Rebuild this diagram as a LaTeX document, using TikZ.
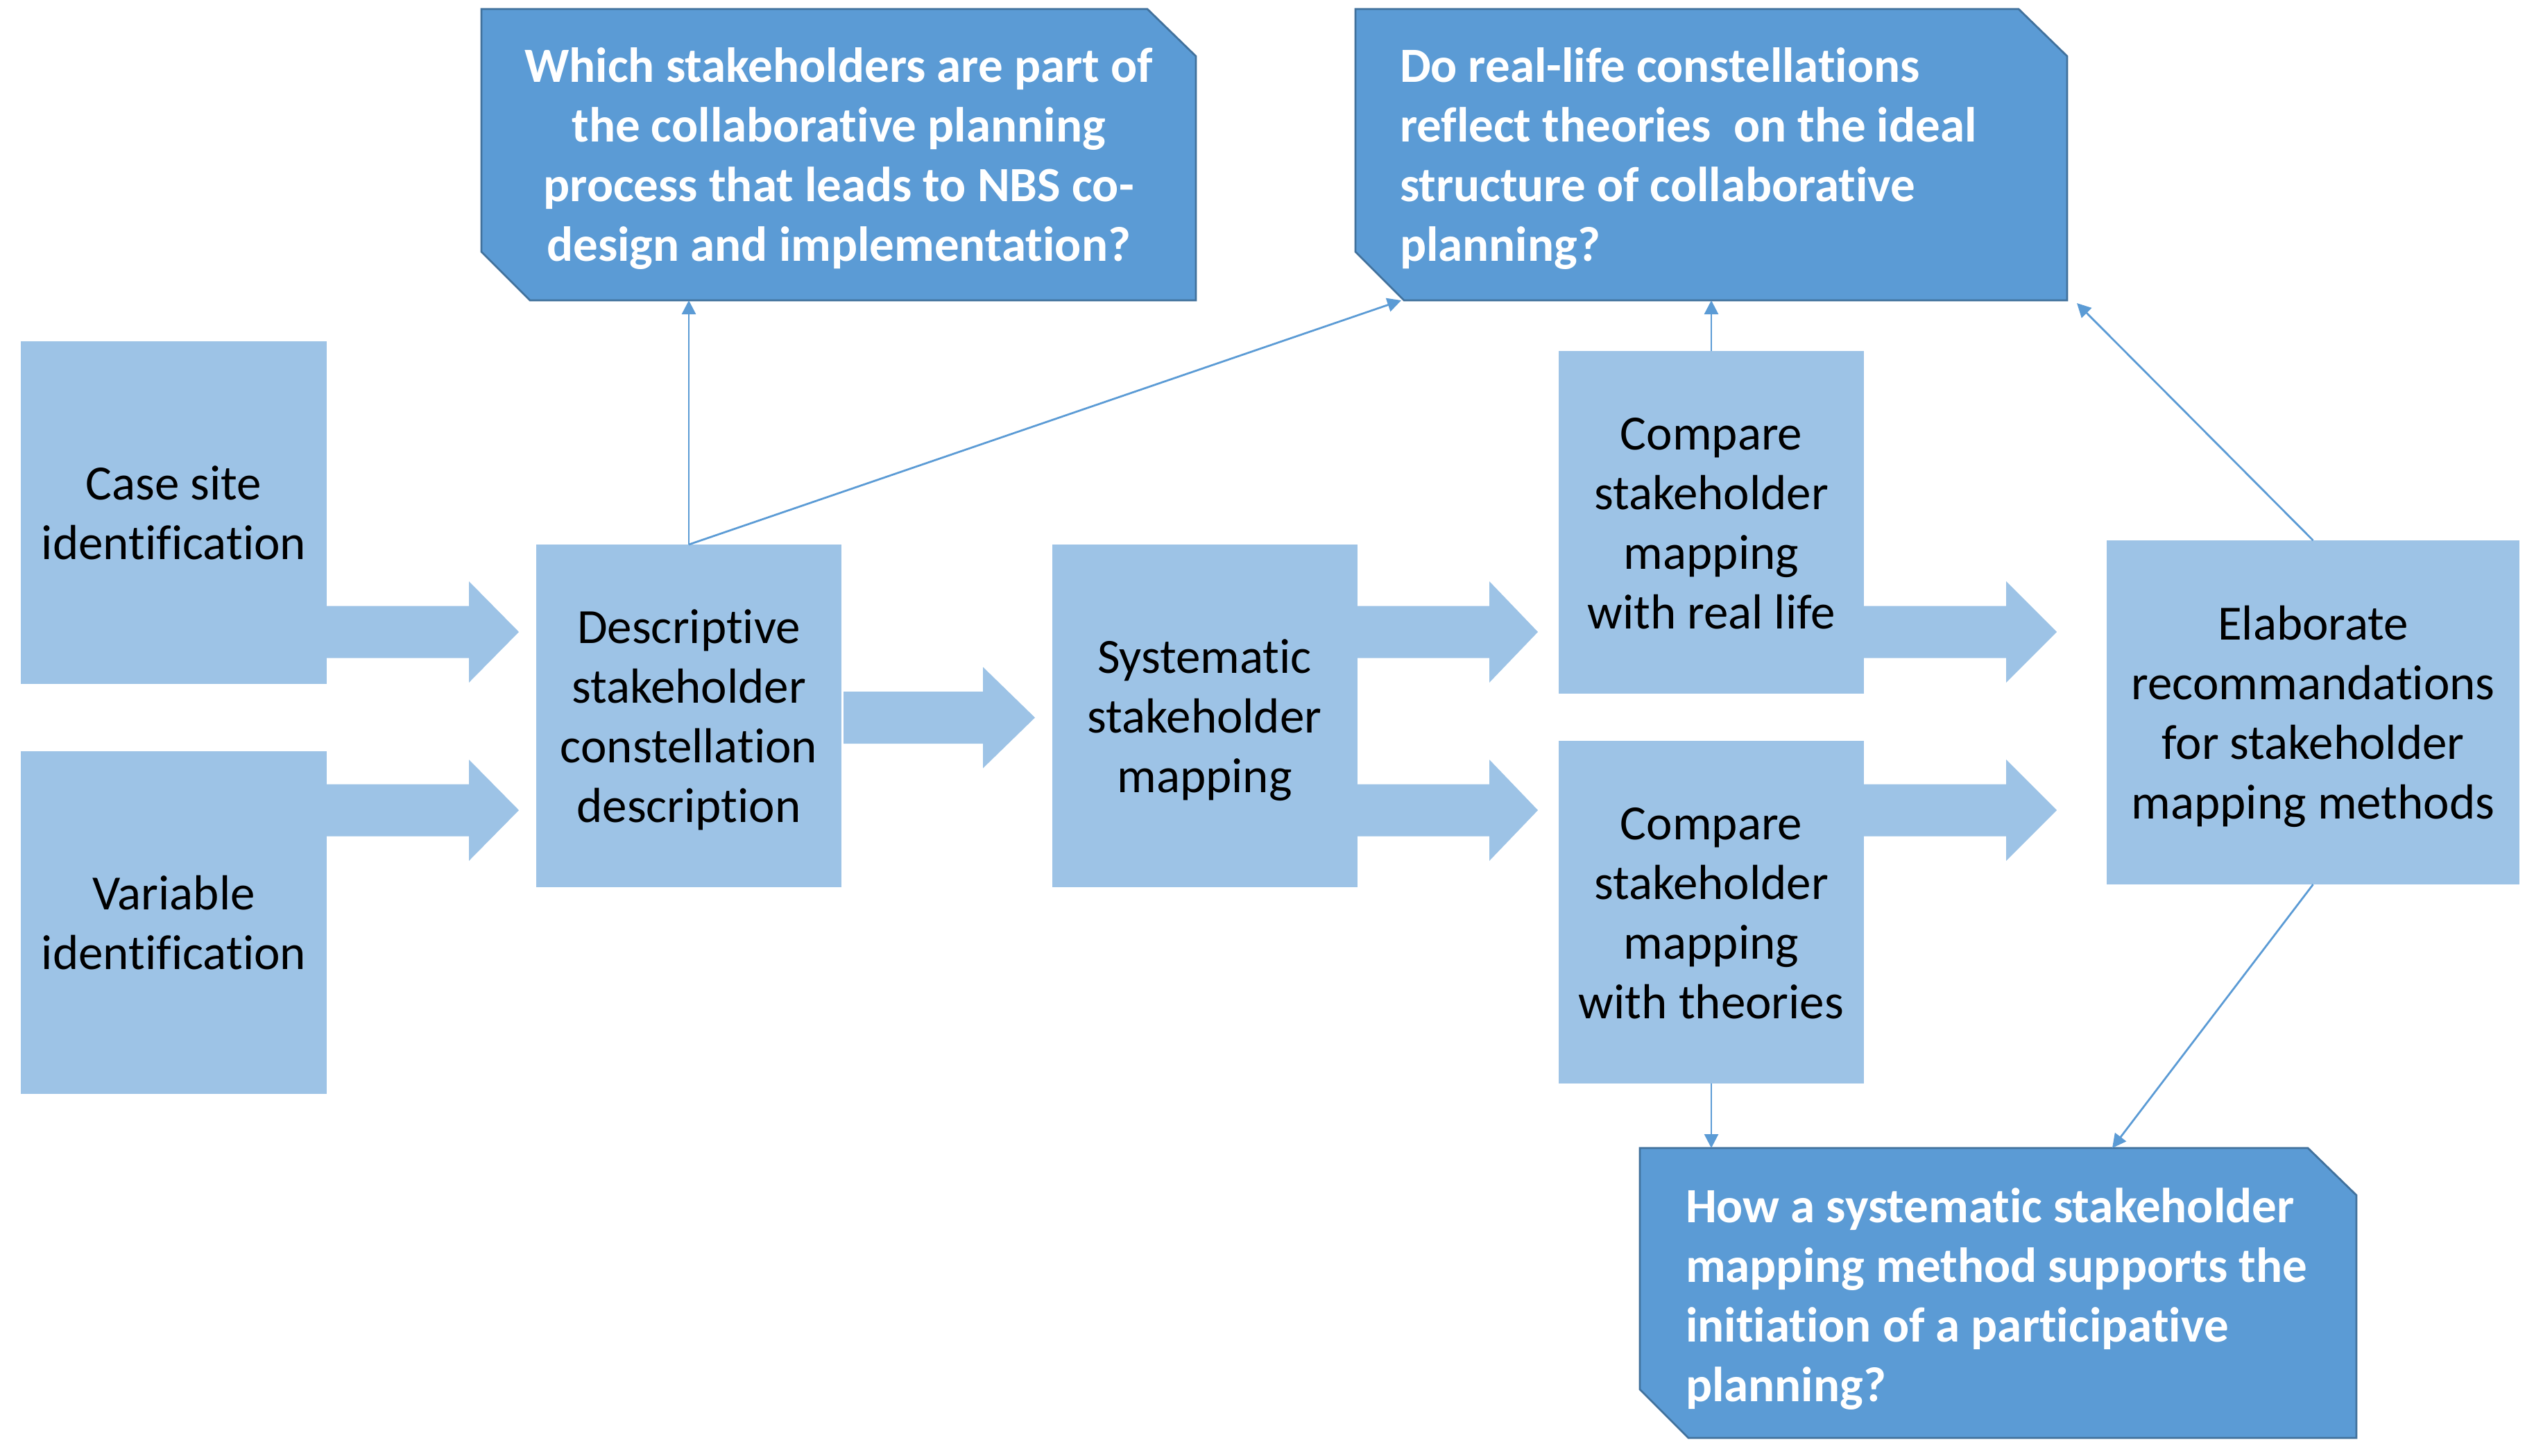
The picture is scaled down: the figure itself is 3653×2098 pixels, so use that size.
\documentclass[tikz,border=0pt]{standalone}
\usepackage{fontspec}
\setmainfont[Ligatures=NoCommon]{Carlito}
\usetikzlibrary{arrows.meta,calc,backgrounds}
\definecolor{lightb}{HTML}{9DC3E6}
\definecolor{qfill}{HTML}{5B9BD5}
\definecolor{qborder}{HTML}{41719C}
\definecolor{lineblue}{HTML}{5B9BD5}
% line strut matching the 17.2pt line box (ascent 13.4pt, descent 3.8pt)
\newcommand\lnst{\rule[-3.8pt]{0pt}{17.2pt}}
\newcommand\blockarr[4]{%
  \fill[lightb] ({#1},{#4-37.5}) -- ({#2},{#4-37.5}) -- ({#2},{#4-73}) -- ({#3},{#4})
    -- ({#2},{#4+73}) -- ({#2},{#4+37.5}) -- ({#1},{#4+37.5}) -- cycle;}
\newcommand\chamferbox[1]{%
  \filldraw[fill=qfill, draw=qborder, line width=0.55pt]
    (#1.north west) -- ($(#1.north east)+(-70,0)$) -- ($(#1.north east)+(0,68)$)
    -- (#1.south east) -- ($(#1.south west)+(70,0)$) -- ($(#1.south west)+(0,-70)$) -- cycle;}
\tikzset{
  lbox/.style={fill=lightb, inner sep=0pt, outer sep=0pt, minimum width=88pt,
    minimum height=98.8pt, align=center, text=black,
    font=\fontsize{14.2}{17.2}\selectfont},
  qbox/.style={inner sep=0pt, outer sep=0pt, minimum height=84pt},
  qtext/.style={inner sep=0pt, outer sep=0pt, text=white,
    font=\fontsize{14.2}{17.2}\selectfont\bfseries},
  conn/.style={draw=lineblue, line width=0.55pt, -{Triangle[length=4pt,width=4pt]}}
}
\begin{document}
\begin{tikzpicture}[x=0.2pt,y=-0.2pt]
\useasboundingbox (0,0) rectangle (3653,2098);

% light process boxes
\node[lbox] (cs)   at (250.5,739)  {\lnst Case site\\identification\lnst};
\node[lbox] (var)  at (250.5,1330) {\lnst Variable\\identification\lnst};
\node[lbox] (desc) at (993,1032)   {\lnst Descriptive\\stakeholder\\constellation\\description\lnst};
\node[lbox] (sys)  at (1736.5,1032) {\lnst Systematic\\stakeholder\\mapping\lnst};
\node[lbox] (crl)  at (2467,753)   {\lnst Compare\\stakeholder\\mapping\\with real life\lnst};
\node[lbox] (cth)  at (2467,1315)  {\lnst Compare\\stakeholder\\mapping\\with theories\lnst};
\node[lbox, minimum width=119pt, minimum height=99.2pt] (elab) at (3334.5,1027)
  {\lnst Elaborate\\recommandations\\for stakeholder\\mapping methods\lnst};

% question boxes
\node[qbox, minimum width=206pt] (q1) at (1209,223) {};
\node[qbox, minimum width=205.2pt] (q2) at (2467,223) {};
\node[qbox, minimum width=206.6pt, minimum height=83.6pt] (q3) at (2880.5,1864) {};
\begin{scope}[on background layer]
  \fill[white] (0,0) rectangle (3653,2098);
  \chamferbox{q1}
  \chamferbox{q2}
  \chamferbox{q3}
\end{scope}
\node[qtext, align=center] (q1t) at (q1.center)
  {\lnst Which stakeholders are part of\\the collaborative planning\\process that leads to NBS co-\\design and implementation?\lnst};
\node[qtext, align=left, anchor=west] (q2t) at ($(q2.west)+(64,0)$)
  {\lnst Do real-life constellations\\reflect theories\ \ on the ideal\\structure of collaborative\\planning?\lnst};
\node[qtext, align=left, anchor=west] (q3t) at ($(q3.west)+(66,3)$)
  {\lnst How a systematic stakeholder\\mapping method supports the\\initiation of a participative\\planning?\lnst};

% block arrows
\blockarr{471}{676}{748}{911}
\blockarr{471}{676}{748}{1168}
\blockarr{1216}{1417}{1492}{1034.5}
\blockarr{1956}{2147}{2217}{911}
\blockarr{1956}{2147}{2217}{1168}
\blockarr{2687}{2892}{2965}{911}
\blockarr{2687}{2892}{2965}{1168}

% thin connectors
\coordinate (q2bl) at ($(q2.south west)+(66,0)$);
\coordinate (q2br) at ($(q2.south east)+(14,4)$);
\coordinate (q3top) at ($(q3.north west)+(681,0)$);
\draw[conn] (desc.north) -- (desc.north |- q1.south);
\draw[conn] (desc.north) -- (q2bl);
\draw[conn] (crl.north) -- (crl.north |- q2.south);
\draw[conn] (elab.north) -- (q2br);
\draw[conn] (cth.south) -- (cth.south |- q3.north);
\draw[conn] (elab.south) -- (q3top);
\end{tikzpicture}
\end{document}
